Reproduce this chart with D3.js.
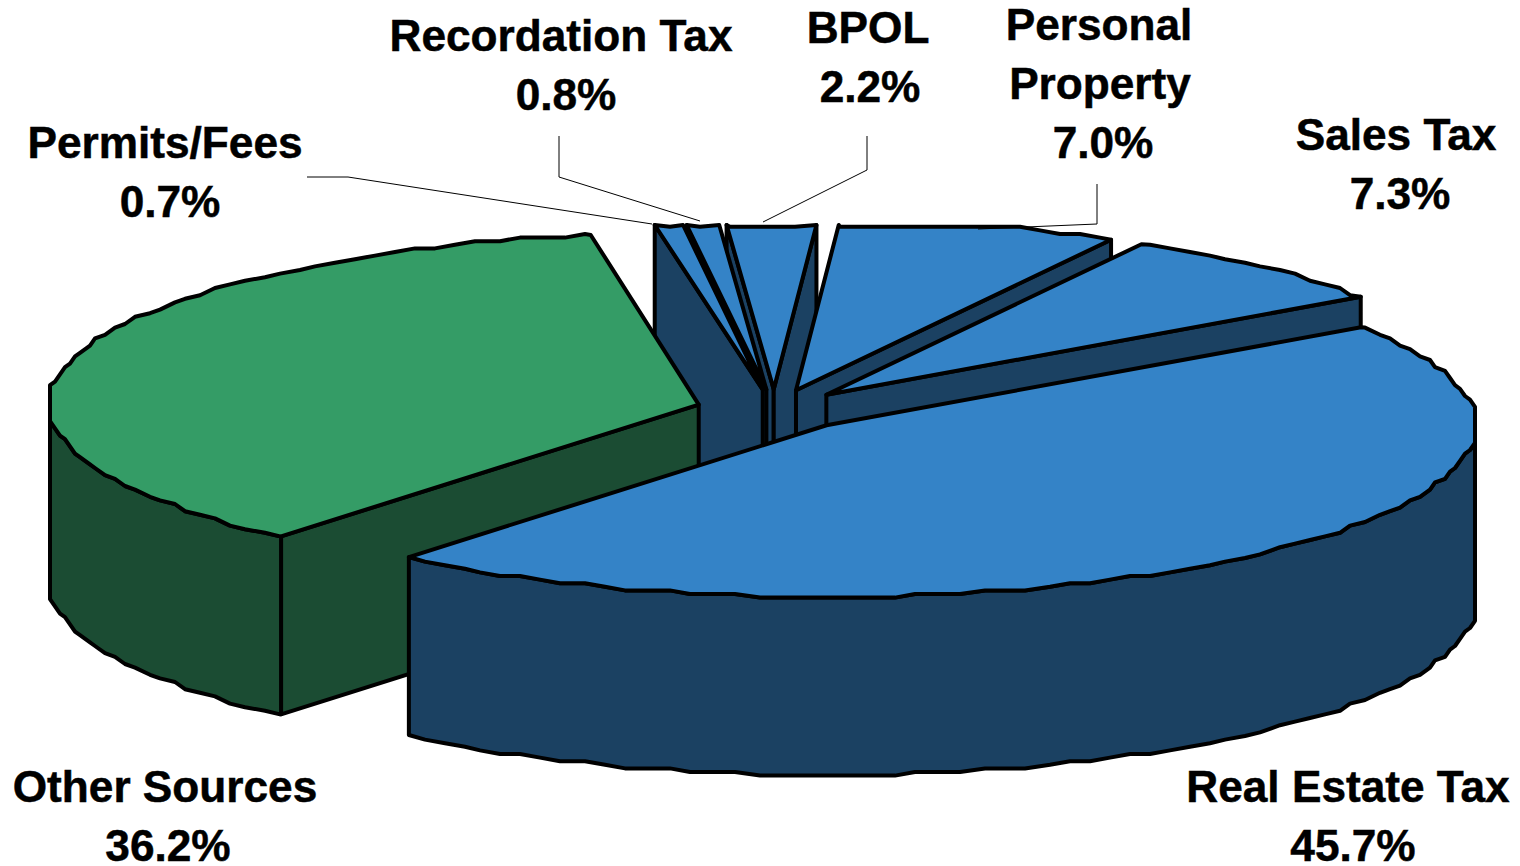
<!DOCTYPE html>
<html><head><meta charset="utf-8">
<script src="https://cdn.jsdelivr.net/npm/d3@7/dist/d3.min.js"></script>
<style>html,body{margin:0;background:#fff}svg{display:block}text{font-family:"Liberation Sans",Arial,sans-serif;font-weight:700;fill:#000;stroke:#000;stroke-width:.5px}</style>
</head><body><svg id="c" width="1520" height="866"></svg>
<script>
const categories=["Real Estate Tax","Other Sources","Permits/Fees","Recordation Tax","BPOL","Personal Property","Sales Tax"];
const shares=[45.7,36.2,0.7,0.8,2.2,7.0,7.3];
const labelLines=[["Real Estate Tax"],["Other Sources"],["Permits/Fees"],["Recordation Tax"],["BPOL"],["Personal","Property"],["Sales Tax"]];
const labelX=[[1348,1353],[165,168],[165,170],[561,566],[868,870],[1099,1100,1103],[1396,1400]];
const labelY=[802,802,158,51,43,40,150];
const topColors=["#3483c7","#349c66","#3483c7","#3483c7","#3483c7","#3483c7","#3483c7"];
const wallColors=["#1b4162","#1b4c33","#1b4162","#1b4162","#1b4162","#1b4162","#1b4162"];
const leaders=[[[307,177],[348,177],[652,224]],[[559,136],[559,177],[700,221]],[[867,136],[867,170],[763,222]],[[1097,184],[1097,224],[978,229]]];

const rad=Math.PI/180, CX=774, CY=410, RX=650, RY=172, DEPTH=178, EXPLODE=0.12, TOP=225, STEP=2*rad;
const svg=d3.select("#c");
const sx=d3.scaleLinear().domain([-1,1]).range([CX-RX,CX+RX]);
const sy=d3.scaleLinear().domain([-1,1]).range([CY-RY,CY+RY]);
const pie=d3.pie().sort(null).value(d=>d).startAngle(55.3*rad).endAngle(415.3*rad);
const arcs=pie(shares);
const line=d3.line();
const snap=(v,g)=>Math.round(v/g)*g;

arcs.forEach(a=>{a.mid=(a.startAngle+a.endAngle)/2;a.ox=EXPLODE*Math.sin(a.mid);a.oy=-EXPLODE*Math.cos(a.mid);});
const apex=a=>[sx(a.ox),sy(a.oy)];
const rimPt=(a,t,q=true)=>{
  let x=sx(a.ox+Math.sin(t)), y=Math.max(sy(a.oy-Math.cos(t)),TOP);
  if(q){x=snap(x,5);y=snap(y,3.6);}
  return [x,Math.max(y,TOP)];
};
// Rim vertices sit on one shared angular grid so that a wall and its top face share them exactly.
const rimPts=(a,t0,t1)=>{
  const pts=[];
  for(let k=Math.floor(t0/STEP+1e-6)+1;k*STEP<t1-1e-6;k++) pts.push(rimPt(a,k*STEP));
  return pts;
};
const down=p=>[p[0],p[1]+DEPTH];
const face=(pts,fill)=>svg.append("path").attr("d",line(pts)+"Z").attr("fill",fill)
  .attr("stroke","#000").attr("stroke-width",4).attr("stroke-linejoin","round");

d3.range(arcs.length).sort((i,j)=>Math.cos(arcs[j].mid)-Math.cos(arcs[i].mid)).forEach(i=>{
  const a=arcs[i], c=apex(a), wall=wallColors[i];
  const s=rimPt(a,a.startAngle,false), e=rimPt(a,a.endAngle,false);
  if(Math.sin(a.startAngle)<0) face([c,s,down(s),down(c)],wall);
  if(Math.sin(a.endAngle)>0) face([c,e,down(e),down(c)],wall);
  const lo=Math.max(a.startAngle,90*rad), hi=Math.min(a.endAngle,270*rad);
  if(hi>lo){
    const r=rimPts(a,lo,hi);
    if(a.startAngle>90*rad) r.unshift(s);
    if(a.endAngle<270*rad) r.push(e);
    face(r.concat(r.slice().reverse().map(down)),wall);
  }
  face([c,s].concat(rimPts(a,a.startAngle,a.endAngle),[e]),topColors[i]);
});

leaders.forEach(l=>svg.append("path").attr("d",line(l)).attr("fill","none").attr("stroke","#000").attr("stroke-width",1));

const fmt=d3.format(".1f");
categories.forEach((c,i)=>{
  const rows=labelLines[i].concat([fmt(shares[i])+"%"]);
  rows.forEach((t,k)=>svg.append("text").attr("x",labelX[i][k]).attr("y",labelY[i]+k*59)
    .attr("text-anchor","middle").attr("font-size",44.2).text(t));
});
</script></body></html>
